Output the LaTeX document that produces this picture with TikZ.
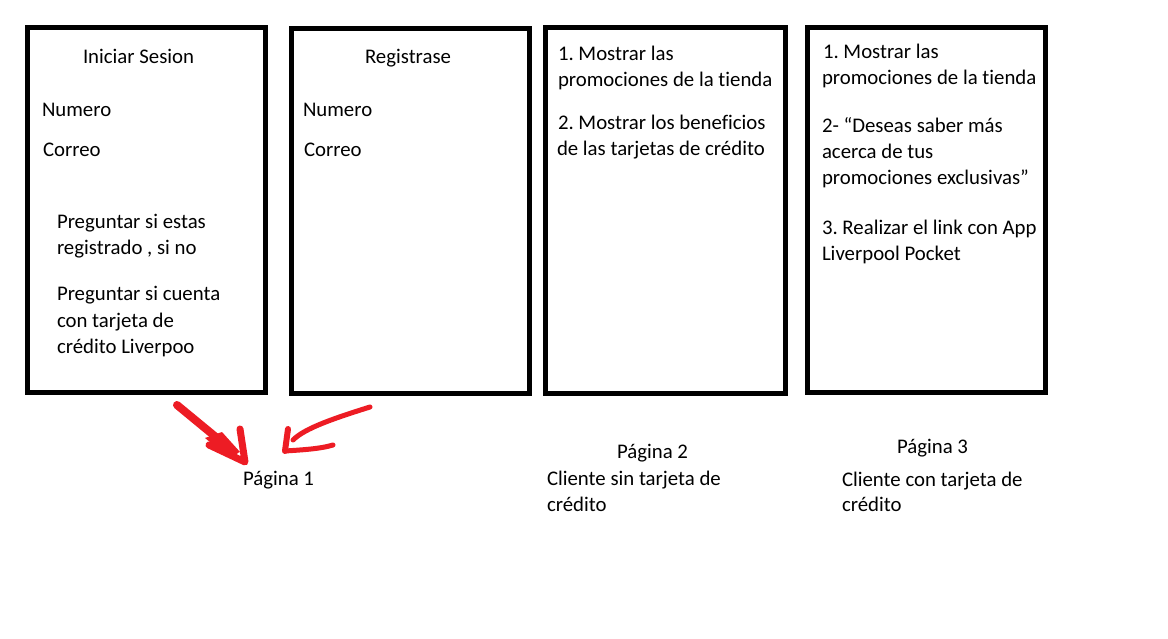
\documentclass[tikz,border=0pt]{standalone}
\usepackage{fontspec}
\setmainfont[Ligatures=NoCommon]{Carlito}
\definecolor{paintred}{HTML}{ED1C24}
\frenchspacing
\begin{document}
\begin{tikzpicture}[x=1pt,y=-1pt,
  box/.style={draw=black, line width=5pt, outer sep=0pt, inner sep=0pt, anchor=north west},
  txt/.style={anchor=base west, inner sep=0pt, outer sep=0pt, font=\fontsize{20.8}{25}\selectfont},
  redstroke/.style={draw=paintred, line cap=round, line join=round}
]
\useasboundingbox[fill=white] (0,0) rectangle (1168,639);

% boxes
\node (b1) [box, minimum width=238pt, minimum height=365pt] at (27.5,27.5) {};
\node (b2) [box, minimum width=238pt, minimum height=365pt] at (291,28.5) {};
\node (b3) [box, minimum width=240pt, minimum height=365.5pt] at (545.5,27.5) {};
\node (b4) [box, minimum width=238pt, minimum height=365pt] at (807.5,27.5) {};

% box 1
\node (t11) [txt] at (83,64) {Iniciar Sesion};
\node (t12) [txt] at (42,117) {Numero};
\node (t13) [txt] at (43,157) {Correo};
\node (t14) [txt] at (57,229) {Preguntar si estas};
\node (t15) [txt] at (57,255) {registrado , si no};
\node (t16) [txt] at (57,301) {Preguntar si cuenta};
\node (t17) [txt] at (57,327) {con tarjeta de};
\node (t18) [txt] at (57,353) {crédito Liverpoo};

% box 2
\node (t21) [txt] at (365,64) {Registrase};
\node (t22) [txt] at (303,117) {Numero};
\node (t23) [txt] at (304,157) {Correo};

% box 3
\node (t31) [txt] at (558,61) {1. Mostrar las};
\node (t32) [txt] at (558,87) {promociones de la tienda};
\node (t33) [txt] at (558,130) {2. Mostrar los beneficios};
\node (t34) [txt] at (557,156) {de las tarjetas de crédito};

% box 4
\node (t41) [txt] at (823,59) {1. Mostrar las};
\node (t42) [txt] at (822,85) {promociones de la tienda};
\node (t43) [txt] at (822,133) {2- “Deseas saber más};
\node (t44) [txt] at (822,159) {acerca de tus};
\node (t45) [txt] at (822,185) {promociones exclusivas”};
\node (t46) [txt] at (822,235) {3. Realizar el link con App};
\node (t47) [txt] at (822,261) {Liverpool Pocket};

% bottom labels
\node (p1) [txt] at (243,485) {Página 1};
\node (p2) [txt] at (617,458) {Página 2};
\node (c2a) [txt] at (547,485) {Cliente sin tarjeta de};
\node (c2b) [txt] at (547,511) {crédito};
\node (p3) [txt] at (897,453) {Página 3};
\node (c3a) [txt] at (842,486) {Cliente con tarjeta de};
\node (c3b) [txt] at (842,511) {crédito};

% hand-drawn red arrows
\coordinate (a1s) at (177,405);
\coordinate (a1t) at (245,462);
\draw[redstroke, line width=8pt] (a1s) -- (234,452);
\draw[redstroke, line width=7pt] (209,445) -- (a1t) -- (240,429);
\fill[paintred] (205,438) -- (222,432) -- (240,452) -- (228,457) -- cycle;

\coordinate (a2s) at (370,407);
\coordinate (a2t) at (285,451);
\draw[redstroke, line width=5pt] (a2s) .. controls (335,418) and (305,428) .. (293,440);
\draw[redstroke, line width=6pt] (288,429) -- (a2t);
\draw[redstroke, line width=5pt] (a2t) .. controls (300,450) and (320,449) .. (333,445);
\end{tikzpicture}
\end{document}
